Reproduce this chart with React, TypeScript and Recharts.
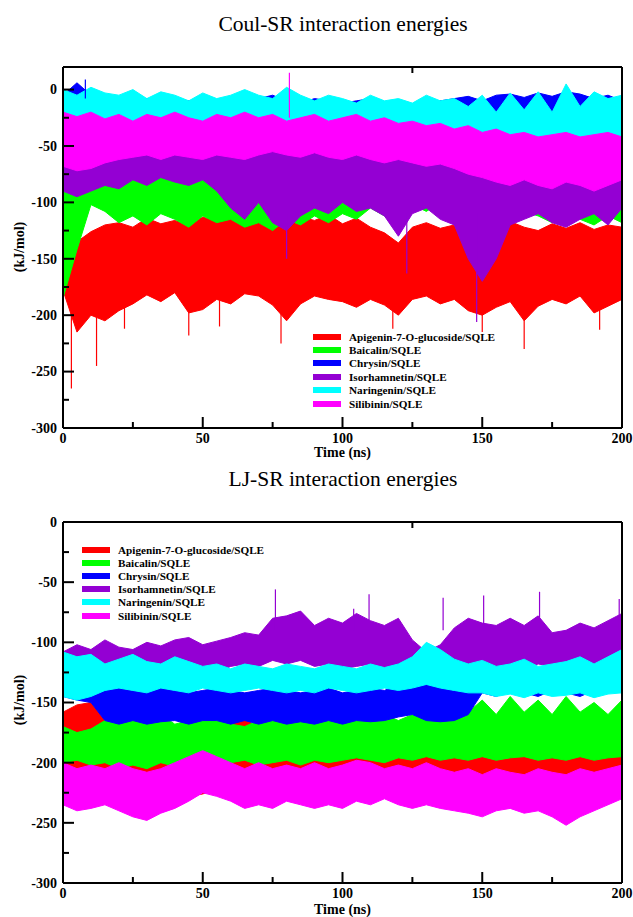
import React from "react";
import { ComposedChart, Area, Scatter, ErrorBar, XAxis, YAxis, Legend } from "recharts";

const FONT = '"Liberation Serif", "Times New Roman", serif';

const timeNs = [
  0, 5, 10, 15, 20, 25, 30, 35, 40, 45, 50, 55, 60, 65, 70, 75, 80, 85, 90, 95, 100,
  105, 110, 115, 120, 125, 130, 135, 140, 145, 150, 155, 160, 165, 170, 175, 180, 185, 190, 195, 200,
];
const timeTicks = [0, 25, 50, 75, 100, 125, 150, 175, 200];
const energyTicks = [-300, -275, -250, -225, -200, -175, -150, -125, -100, -75, -50, -25, 0];

const ligandNames = [
  "Apigenin-7-O-glucoside/SQLE",
  "Baicalin/SQLE",
  "Chrysin/SQLE",
  "Isorhamnetin/SQLE",
  "Naringenin/SQLE",
  "Silibinin/SQLE",
];
const ligandColors = ["#ff0000", "#00ff00", "#0000ff", "#9400d3", "#00ffff", "#ff00ff"];

// Coul-SR: upper / lower envelope of each trace (kJ/mol), every 5 ns
const coulApigeninHigh = [-128, -135, -126, -120, -118, -122, -114, -119, -116, -121, -113, -117, -111, -118, -113, -116, -121, -113, -116, -111, -119, -114, -122, -127, -136, -122, -118, -123, -120, -124, -128, -121, -117, -122, -125, -119, -123, -118, -124, -120, -122];
const coulApigeninLow = [-178, -215, -200, -205, -196, -190, -182, -188, -180, -198, -195, -186, -190, -181, -183, -191, -205, -190, -183, -186, -188, -193, -186, -191, -200, -186, -183, -190, -186, -196, -200, -193, -188, -205, -192, -186, -190, -183, -198, -192, -186];
const coulBaicalinHigh = [-55, -60, -63, -66, -60, -58, -63, -60, -57, -62, -60, -57, -62, -66, -60, -63, -59, -65, -62, -60, -64, -61, -59, -65, -62, -60, -63, -66, -60, -62, -65, -60, -62, -66, -60, -63, -65, -60, -62, -64, -61];
const coulBaicalinLow = [-185, -142, -102, -108, -118, -112, -120, -110, -115, -122, -112, -118, -115, -122, -118, -125, -115, -120, -112, -118, -110, -115, -105, -112, -118, -102, -108, -100, -112, -118, -110, -105, -115, -108, -112, -118, -110, -115, -120, -112, -118];
const coulChrysinHigh = [-5, 6, -5, -8, -10, -12, -8, -10, -12, -10, -8, -10, -15, -10, -8, -5, -10, -12, -8, -10, -12, -10, -8, -12, -10, -15, -12, -10, -8, -6, -10, -5, -4, -7, -3, -6, -2, -4, -8, -5, -10];
const coulChrysinLow = [-35, -30, -40, -45, -42, -48, -45, -50, -45, -48, -50, -45, -48, -52, -50, -45, -48, -50, -45, -48, -45, -50, -48, -45, -50, -45, -48, -42, -40, -35, -30, -28, -25, -30, -28, -25, -30, -28, -32, -35, -40];
const coulIsorhamnetinHigh = [-50, -55, -52, -55, -50, -45, -48, -45, -50, -48, -45, -50, -55, -50, -48, -52, -50, -48, -52, -55, -50, -52, -55, -50, -55, -52, -55, -50, -55, -60, -65, -60, -55, -58, -60, -62, -58, -60, -62, -58, -60];
const coulIsorhamnetinLow = [-90, -95, -90, -85, -88, -80, -85, -78, -82, -85, -80, -90, -105, -115, -100, -118, -125, -112, -105, -110, -100, -108, -105, -112, -130, -110, -105, -115, -120, -150, -170, -150, -120, -115, -110, -118, -122, -115, -110, -120, -105];
const coulNaringeninHigh = [0, -5, 2, -3, -5, 0, -8, -2, -5, -10, -3, -8, -5, 0, -5, -8, 2, -5, -10, -5, -8, -12, -5, -10, -8, -12, -5, -10, -8, -15, -5, -20, -3, -18, -2, -20, 5, -15, -2, -8, -5];
const coulNaringeninLow = [-30, -35, -38, -35, -40, -38, -42, -40, -38, -42, -40, -38, -42, -40, -38, -42, -40, -38, -42, -40, -42, -40, -45, -42, -40, -45, -42, -45, -48, -45, -48, -50, -48, -45, -50, -48, -45, -50, -48, -52, -48];
const coulSilibininHigh = [-20, -24, -20, -26, -22, -28, -22, -25, -20, -25, -28, -22, -25, -20, -25, -22, -28, -25, -22, -28, -25, -22, -28, -25, -30, -28, -32, -30, -35, -32, -38, -35, -40, -38, -42, -40, -38, -42, -40, -38, -42];
const coulSilibininLow = [-68, -72, -70, -65, -62, -60, -58, -62, -58, -60, -62, -58, -60, -62, -58, -55, -58, -60, -56, -60, -62, -58, -62, -65, -62, -65, -68, -66, -70, -75, -78, -82, -85, -80, -85, -88, -82, -85, -90, -85, -80];

// Coul-SR: isolated frames that stick out of the bands (time ns, tip kJ/mol)
const coulApigeninSpikeTimes = [3, 12, 22, 45, 56, 78, 118, 150, 165, 192];
const coulApigeninSpikeTips = [-265, -245, -212, -218, -210, -225, -212, -215, -230, -213];
const coulIsorhamnetinSpikeTimes = [80, 123, 148];
const coulIsorhamnetinSpikeTips = [-150, -163, -206];
const coulSilibininSpikeTimes = [81];
const coulSilibininSpikeTips = [15];
const coulChrysinSpikeTimes = [8];
const coulChrysinSpikeTips = [9];

// LJ-SR: upper / lower envelope of each trace (kJ/mol), every 5 ns
const ljApigeninHigh = [-158, -152, -150, -165, -175, -180, -176, -180, -178, -182, -175, -172, -165, -160, -175, -180, -185, -182, -185, -188, -185, -180, -178, -182, -185, -180, -185, -188, -182, -185, -180, -188, -185, -190, -185, -188, -182, -185, -180, -188, -185];
const ljApigeninLow = [-215, -218, -222, -220, -225, -228, -225, -222, -225, -228, -226, -222, -220, -218, -222, -225, -228, -225, -222, -225, -228, -225, -222, -225, -228, -225, -222, -228, -225, -222, -228, -225, -222, -225, -228, -225, -222, -225, -228, -225, -222];
const ljBaicalinHigh = [-170, -175, -172, -165, -168, -162, -165, -160, -168, -165, -160, -162, -168, -170, -165, -162, -165, -160, -165, -162, -160, -165, -162, -160, -165, -160, -158, -162, -160, -158, -148, -160, -145, -158, -148, -160, -145, -158, -150, -160, -148];
const ljBaicalinLow = [-200, -198, -202, -200, -205, -202, -205, -200, -203, -198, -195, -198, -200, -198, -202, -200, -198, -202, -198, -200, -198, -196, -198, -200, -196, -198, -195, -198, -196, -198, -195, -198, -196, -195, -198, -196, -198, -195, -198, -196, -195];
const ljChrysinHigh = [-128, -130, -132, -140, -138, -140, -142, -138, -140, -142, -140, -138, -140, -142, -140, -138, -140, -142, -140, -138, -142, -140, -138, -140, -135, -132, -134, -138, -140, -142, -125, -128, -122, -125, -130, -125, -128, -125, -130, -128, -125];
const ljChrysinLow = [-145, -148, -150, -165, -168, -165, -168, -166, -165, -168, -165, -165, -168, -165, -168, -165, -168, -166, -168, -165, -168, -165, -166, -165, -162, -160, -165, -166, -165, -160, -142, -145, -140, -142, -145, -140, -142, -145, -140, -142, -140];
const ljIsorhamnetinHigh = [-108, -102, -106, -98, -104, -106, -100, -103, -98, -96, -102, -99, -96, -92, -94, -80, -78, -74, -86, -80, -84, -76, -82, -86, -80, -98, -108, -102, -88, -80, -84, -86, -80, -86, -78, -92, -90, -84, -88, -82, -76];
const ljIsorhamnetinLow = [-128, -130, -128, -125, -130, -128, -125, -130, -128, -125, -122, -125, -120, -118, -120, -115, -118, -115, -120, -118, -122, -120, -118, -122, -125, -130, -135, -132, -128, -125, -122, -125, -120, -122, -118, -120, -125, -122, -120, -118, -115];
const ljNaringeninHigh = [-108, -112, -110, -118, -114, -110, -116, -118, -112, -116, -120, -118, -122, -118, -120, -122, -118, -120, -122, -118, -120, -122, -118, -121, -118, -112, -100, -106, -114, -118, -115, -120, -118, -114, -120, -118, -116, -112, -118, -112, -106];
const ljNaringeninLow = [-145, -148, -145, -140, -138, -140, -142, -138, -140, -142, -138, -140, -142, -140, -138, -140, -142, -140, -142, -138, -140, -142, -140, -138, -140, -138, -135, -138, -140, -142, -142, -145, -143, -146, -142, -145, -144, -142, -146, -143, -142];
const ljSilibininHigh = [-200, -205, -202, -205, -200, -205, -208, -205, -200, -195, -190, -195, -200, -205, -200, -205, -202, -205, -200, -205, -202, -198, -200, -205, -202, -205, -200, -205, -208, -205, -210, -205, -208, -210, -205, -208, -210, -205, -208, -205, -202];
const ljSilibininLow = [-235, -240, -238, -235, -240, -245, -248, -242, -238, -232, -225, -228, -232, -238, -235, -238, -232, -235, -238, -235, -238, -232, -235, -230, -235, -238, -235, -238, -240, -242, -245, -240, -238, -242, -240, -245, -252, -245, -240, -235, -230];

// LJ-SR: isolated frames above the Isorhamnetin band
const ljIsorhamnetinSpikeTimes = [76, 104, 109.5, 136, 150.5, 170.5, 199];
const ljIsorhamnetinSpikeTips = [-56, -72, -60, -63, -61, -58, -64];

function buildRows(bands: number[][][]) {
  return timeNs.map((t, i) => {
    const row: Record<string, any> = { t };
    bands.forEach(([high, low], k) => {
      row[`s${k}`] = [low[i], high[i]];
    });
    return row;
  });
}

// each spike is drawn as a vertical error bar from the band edge to its tip
function buildSpikes(times: number[], tips: number[], base: number) {
  return times.map((t, i) => ({
    t,
    v: base,
    err: [Math.max(0, base - tips[i]), Math.max(0, tips[i] - base)],
  }));
}

const coulRows = buildRows([
  [coulApigeninHigh, coulApigeninLow],
  [coulBaicalinHigh, coulBaicalinLow],
  [coulChrysinHigh, coulChrysinLow],
  [coulIsorhamnetinHigh, coulIsorhamnetinLow],
  [coulNaringeninHigh, coulNaringeninLow],
  [coulSilibininHigh, coulSilibininLow],
]);
const coulSpikes: Record<number, any[]> = {
  0: buildSpikes(coulApigeninSpikeTimes, coulApigeninSpikeTips, -185),
  2: buildSpikes(coulChrysinSpikeTimes, coulChrysinSpikeTips, -8),
  3: buildSpikes(coulIsorhamnetinSpikeTimes, coulIsorhamnetinSpikeTips, -110),
  5: buildSpikes(coulSilibininSpikeTimes, coulSilibininSpikeTips, -25),
};

const ljRows = buildRows([
  [ljApigeninHigh, ljApigeninLow],
  [ljBaicalinHigh, ljBaicalinLow],
  [ljChrysinHigh, ljChrysinLow],
  [ljIsorhamnetinHigh, ljIsorhamnetinLow],
  [ljNaringeninHigh, ljNaringeninLow],
  [ljSilibininHigh, ljSilibininLow],
]);
const ljSpikes: Record<number, any[]> = {
  3: buildSpikes(ljIsorhamnetinSpikeTimes, ljIsorhamnetinSpikeTips, -90),
};

const labelStyle = { fontFamily: FONT, fontWeight: "bold" as const, fontSize: 14, fill: "#000" };

// inward tick marks, major every 50, minor every 25
const BottomTick = (p: any) => {
  const major = p.payload.value % 50 === 0;
  return (
    <g>
      <line x1={p.x} x2={p.x} y1={p.y} y2={p.y - (major ? 11 : 6)} stroke="#000" strokeWidth={2} />
      {major && (
        <text x={p.x} y={p.y + 15} textAnchor="middle" {...labelStyle}>
          {p.payload.value}
        </text>
      )}
    </g>
  );
};

const TopTick = (p: any) => {
  const major = p.payload.value % 50 === 0;
  return <line x1={p.x} x2={p.x} y1={p.y} y2={p.y + (major ? 11 : 6)} stroke="#000" strokeWidth={2} />;
};

const LeftTick = (p: any) => {
  const major = p.payload.value % 50 === 0;
  return (
    <g>
      <line x1={p.x} x2={p.x + (major ? 11 : 6)} y1={p.y} y2={p.y} stroke="#000" strokeWidth={2} />
      {major && (
        <text x={p.x - 6} y={p.y} dy="0.35em" textAnchor="end" {...labelStyle}>
          {p.payload.value}
        </text>
      )}
    </g>
  );
};

const RightTick = (p: any) => {
  const major = p.payload.value % 50 === 0;
  return <line x1={p.x} x2={p.x - (major ? 11 : 6)} y1={p.y} y2={p.y} stroke="#000" strokeWidth={2} />;
};

function LigandLegend({ rowHeight }: { rowHeight: number }) {
  return (
    <div style={{ fontFamily: FONT, fontWeight: "bold", fontSize: 11.2, color: "#000" }}>
      {ligandNames.map((name, k) => (
        <div key={name} style={{ display: "flex", alignItems: "center", height: rowHeight, whiteSpace: "nowrap" }}>
          <span style={{ display: "inline-block", width: 28, height: 6, background: ligandColors[k], marginRight: 8 }} />
          {name}
        </div>
      ))}
    </div>
  );
}

const axisLine = { stroke: "#000", strokeWidth: 2 };
const noShape = () => <g />;

function EnergyPanel({ rows, spikes, yMax, height, margin, legendPos, rowHeight }: any) {
  const series: React.ReactNode[] = [];
  ligandNames.forEach((name, k) => {
    series.push(
      <Area
        key={name}
        name={name}
        dataKey={`s${k}`}
        type="linear"
        stroke={ligandColors[k]}
        strokeWidth={1}
        fill={ligandColors[k]}
        fillOpacity={1}
        dot={false}
        activeDot={false}
        isAnimationActive={false}
      />
    );
    if (spikes[k]) {
      series.push(
        <Scatter key={`${name}-spikes`} data={spikes[k]} dataKey="v" shape={noShape} isAnimationActive={false} legendType="none">
          <ErrorBar dataKey="err" direction="y" width={0} stroke={ligandColors[k]} strokeWidth={1.2} isAnimationActive={false} />
        </Scatter>
      );
    }
  });

  return (
    <ComposedChart width={633} height={height} data={rows} margin={margin}>
      <XAxis dataKey="t" type="number" domain={[0, 200]} ticks={timeTicks} interval={0} height={1}
        tickSize={0} tickMargin={0} axisLine={axisLine} tickLine={false} tick={<BottomTick />} />
      <XAxis xAxisId="top" orientation="top" type="number" domain={[0, 200]} ticks={timeTicks} interval={0}
        height={1} tickSize={0} tickMargin={0} axisLine={axisLine} tickLine={false} tick={<TopTick />} />
      <YAxis type="number" domain={[-300, yMax]} ticks={energyTicks} interval={0} width={1} allowDataOverflow
        tickSize={0} tickMargin={0} axisLine={axisLine} tickLine={false} tick={<LeftTick />} />
      <YAxis yAxisId="right" orientation="right" type="number" domain={[-300, yMax]} ticks={energyTicks}
        interval={0} width={1} tickSize={0} tickMargin={0} axisLine={axisLine} tickLine={false} tick={<RightTick />} />
      {series}
      <Legend
        layout="vertical"
        align="center"
        verticalAlign="middle"
        wrapperStyle={{ left: legendPos.left, top: legendPos.top, width: 200, height: "auto" }}
        content={() => <LigandLegend rowHeight={rowHeight} />}
      />
    </ComposedChart>
  );
}

const textBase: React.CSSProperties = {
  position: "absolute",
  fontFamily: FONT,
  color: "#000",
  whiteSpace: "nowrap",
  lineHeight: 1,
};

export default function App() {
  return (
    <div style={{ position: "absolute", left: 0, top: 0, width: 633, height: 917, background: "#fff" }}>
      <div style={{ position: "absolute", left: 0, top: 0 }}>
        <EnergyPanel
          rows={coulRows}
          spikes={coulSpikes}
          yMax={20}
          height={460}
          margin={{ top: 66, right: 10, bottom: 31, left: 62 }}
          legendPos={{ left: 313, top: 330 }}
          rowHeight={13.4}
        />
      </div>
      <div style={{ position: "absolute", left: 0, top: 460 }}>
        <EnergyPanel
          rows={ljRows}
          spikes={ljSpikes}
          yMax={0}
          height={457}
          margin={{ top: 61, right: 10, bottom: 33, left: 62 }}
          legendPos={{ left: 82, top: 83.5 }}
          rowHeight={13.1}
        />
      </div>

      <div style={{ ...textBase, left: 0, width: 686, top: 14, textAlign: "center", fontSize: 21.5 }}>
        Coul-SR interaction energies
      </div>
      <div style={{ ...textBase, left: 0, width: 686, top: 469, textAlign: "center", fontSize: 21.5 }}>
        LJ-SR interaction energies
      </div>

      <div style={{ ...textBase, left: 0, width: 685, top: 446, textAlign: "center", fontSize: 14, fontWeight: "bold" }}>
        Time (ns)
      </div>
      <div style={{ ...textBase, left: 0, width: 685, top: 903, textAlign: "center", fontSize: 14, fontWeight: "bold" }}>
        Time (ns)
      </div>

      <div style={{ ...textBase, left: 20, top: 247, fontSize: 14, fontWeight: "bold", transform: "translate(-50%, -50%) rotate(-90deg)" }}>
        (kJ/mol)
      </div>
      <div style={{ ...textBase, left: 20, top: 700, fontSize: 14, fontWeight: "bold", transform: "translate(-50%, -50%) rotate(-90deg)" }}>
        (kJ/mol)
      </div>
    </div>
  );
}
